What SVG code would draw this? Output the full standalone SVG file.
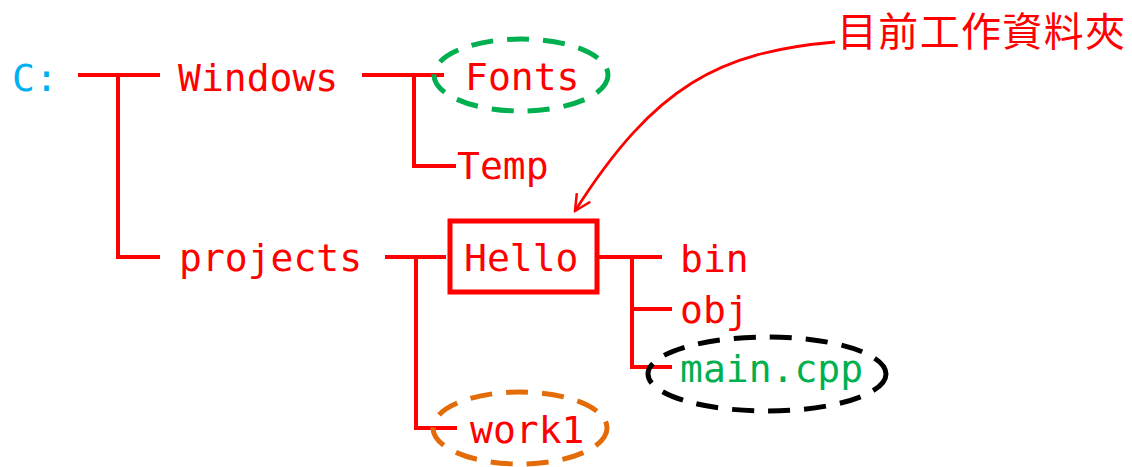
<svg xmlns="http://www.w3.org/2000/svg" width="1132" height="467" viewBox="0 0 1132 467">
<defs>
<style>
.t{font-family:"DejaVu Sans Mono","Liberation Mono",monospace;font-size:38px;fill:#FF0000}
.ln{stroke:#FF0000;stroke-width:4;fill:none;stroke-linecap:square}
.cjk{font-family:"Noto Sans CJK TC","Noto Sans CJK SC",sans-serif;font-size:40px;fill:#FF0000}
.dash{fill:none;stroke-width:5;stroke-dasharray:22 14}
</style>
<marker id="arr" markerWidth="20" markerHeight="20" refX="18" refY="10" orient="auto" markerUnits="userSpaceOnUse">
<polyline points="2,2 18,10 2,18" fill="none" stroke="#FF0000" stroke-width="2.5"/>
</marker>
</defs>
<rect width="1132" height="467" fill="#FFFFFF"/>
<g id="connectors">
<path class="ln" d="M80,75 H158 M118,75 V257 H158"/>
<path class="ln" d="M364,75 H442 M414,75 V166 H454"/>
<path class="ln" d="M387,257 H444 M416,257 V428 H455"/>
<path class="ln" d="M601,257 H660 M632,257 V367 H670 M632,309 H670"/>
<path d="M835,42 C720,52 655,85 575,211" fill="none" stroke="#FF0000" stroke-width="2.8" marker-end="url(#arr)"/>
</g>
<g id="node-c"><text class="t" x="12" y="91" style="fill:#00B0F0">C:</text></g>
<g id="node-windows"><text class="t" x="178" y="91">Windows</text></g>
<g id="node-fonts">
<ellipse class="dash" cx="521" cy="75" rx="87" ry="36" stroke="#00B050"/>
<text class="t" x="465" y="90">Fonts</text>
</g>
<g id="node-temp"><text class="t" x="457" y="179">Temp</text></g>
<g id="node-projects"><text class="t" x="179" y="271">projects</text></g>
<g id="node-hello">
<rect x="450" y="221" width="147" height="71" fill="none" stroke="#FF0000" stroke-width="5"/>
<text class="t" x="464" y="271">Hello</text>
</g>
<g id="node-bin"><text class="t" x="680" y="272">bin</text></g>
<g id="node-obj"><text class="t" x="680" y="323">obj</text></g>
<g id="node-main">
<ellipse class="dash" cx="767" cy="374" rx="119" ry="37" stroke="#000000"/>
<text class="t" x="680" y="382" style="fill:#00B050">main.cpp</text>
</g>
<g id="node-work1">
<ellipse class="dash" cx="520" cy="428" rx="87" ry="36" stroke="#E36C09"/>
<text class="t" x="470" y="443">work1</text>
</g>
<g id="label-cwd"><text class="cjk" x="837" y="46" textLength="288" lengthAdjust="spacing">目前工作資料夾</text></g>
</svg>
